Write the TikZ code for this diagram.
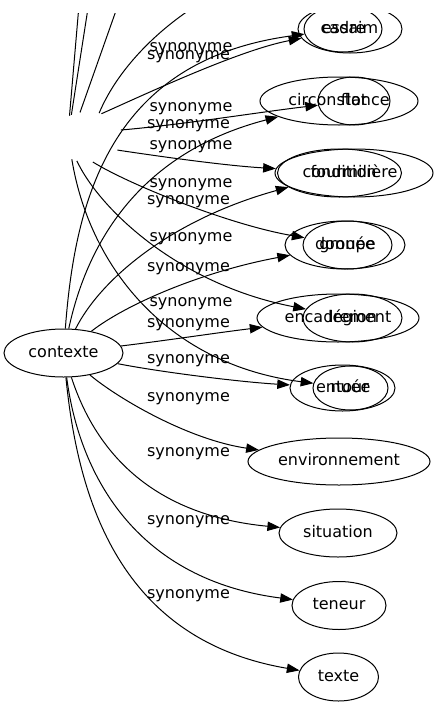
\documentclass[tikz,border=0pt]{standalone}
\usepackage{fontspec}
\setmainfont{DejaVu Sans}
\usetikzlibrary{shapes.geometric,arrows.meta}
\tikzset{
	mot/.style 2 args={draw, ellipse, inner sep=0pt, line width=0.75pt, minimum width=#1*1.5pt, minimum height=#2*1.5pt, text height=9pt, text depth=2.5pt, font=\fontsize{12}{14}\selectfont},
	cache/.style={ellipse, inner sep=0pt, minimum width=51pt, minimum height=37.5pt},
	lien/.style={line width=0.75pt, -{Triangle[length=9.5pt,width=7pt]}},
	brin/.style={line width=0.75pt},
	etiquette/.style={inner sep=0pt, text height=9pt, text depth=2.5pt, font=\fontsize{12}{14}\selectfont}
}
\begin{document}
\begin{tikzpicture}[x=0.75pt,y=-0.75pt]
	\useasboundingbox (0,0) rectangle (436,707);
	\clip (0,13) rectangle (436,707);
	% Paths, nodes and wires:
	\draw node[mot={59.5}{24}] (contexte) at (63.5, 353) {contexte};
	\draw node[cache] (foule) at (88, 137) {};
	\draw node[mot={39}{23}] (cadre) at (343, 29) {cadre};
	\draw node[mot={52}{24}] (essaim) at (350, 29) {essaim};
	\draw node[mot={79}{24}] (circonstance) at (339, 101) {circonstance};
	\draw node[mot={36}{24}] (flot) at (354, 101) {flot};
	\draw node[mot={62}{24}] (condition) at (339.5, 173) {condition};
	\draw node[mot={79}{24}] (fourmiliere) at (354, 173) {fourmilière};
	\draw node[mot={60}{24}] (donnee) at (345, 245) {donnée};
	\draw node[mot={44.5}{24}] (groupe) at (347.5, 245) {groupe};
	\draw node[mot={81}{24}] (encadrement) at (338, 318) {encadrement};
	\draw node[mot={49.5}{24}] (legion) at (352.5, 318) {légion};
	\draw node[mot={52.5}{23}] (entour) at (342.5, 388) {entour};
	\draw node[mot={37.5}{22}] (nuee) at (350.5, 388) {nuée};
	\draw node[mot={91}{23.5}] (environnement) at (339, 461.5) {environnement};
	\draw node[mot={59}{24}] (situation) at (338, 533) {situation};
	\draw node[mot={47}{24}] (teneur) at (339, 605.5) {teneur};
	\draw node[mot={40}{24}] (texte) at (338.5, 677) {texte};
	\coordinate (haut1) at (79, 5);
	\coordinate (haut2) at (88.5, 5);
	\coordinate (haut3) at (118, 5);
	\coordinate (haut4) at (197, 5);
	\draw[brin] (foule.131) -- (haut1);
	\draw[brin] (foule.127) -- (haut2);
	\draw[brin] (foule.108) -- (haut3);
	\draw[brin] (foule.65) .. controls (115, 75) and (150, 35) .. (haut4);
	\draw[lien] (foule.60) .. controls (150, 92) and (240, 50) .. (essaim);
	\draw[lien] (foule.12) .. controls (180, 125) and (260, 112) .. (flot);
	\draw[lien] (foule.-24) .. controls (170, 158) and (230, 166) .. (fourmiliere);
	\draw[lien] (foule.-79) .. controls (130, 185) and (230, 225) .. (groupe);
	\draw[lien] (foule.-115) .. controls (100, 210) and (180, 285) .. (legion);
	\draw[lien] (foule.-126) .. controls (90, 270) and (170, 365) .. (nuee);
	\draw[lien] (contexte) .. controls (75, 200) and (110, 60) .. (cadre);
	\draw[lien] (contexte) .. controls (90, 230) and (150, 150) .. (circonstance);
	\draw[lien] (contexte) .. controls (100, 280) and (170, 220) .. (condition);
	\draw[lien] (contexte) .. controls (125, 305) and (200, 272) .. (donnee);
	\draw[lien] (contexte) .. controls (170, 340) and (215, 333) .. (encadrement);
	\draw[lien] (contexte) .. controls (160, 372) and (240, 382) .. (entour);
	\draw[lien] (contexte) .. controls (120, 400) and (190, 440) .. (environnement);
	\draw[lien] (contexte) .. controls (95, 450) and (150, 515) .. (situation);
	\draw[lien] (contexte) .. controls (80, 480) and (140, 580) .. (teneur);
	\draw[lien] (contexte) .. controls (78, 500) and (120, 640) .. (texte);
	\draw node[etiquette] (lessaim) at (191, 47) {synonyme};
	\draw node[etiquette] (lflot) at (191, 107) {synonyme};
	\draw node[etiquette] (lfourmiliere) at (191, 145) {synonyme};
	\draw node[etiquette] (lgroupe) at (191, 183) {synonyme};
	\draw node[etiquette] (llegion) at (191, 237) {synonyme};
	\draw node[etiquette] (lnuee) at (191, 302) {synonyme};
	\draw node[etiquette] (lcadre) at (188.5, 55) {synonyme};
	\draw node[etiquette] (lcirconstance) at (188.5, 124) {synonyme};
	\draw node[etiquette] (lcondition) at (188.5, 200) {synonyme};
	\draw node[etiquette] (ldonnee) at (188.5, 267) {synonyme};
	\draw node[etiquette] (lencadrement) at (188.5, 323) {synonyme};
	\draw node[etiquette] (lentour) at (188.5, 359) {synonyme};
	\draw node[etiquette] (lenvironnement) at (188.5, 397) {synonyme};
	\draw node[etiquette] (lsituation) at (188.5, 452) {synonyme};
	\draw node[etiquette] (lteneur) at (188.5, 520) {synonyme};
	\draw node[etiquette] (ltexte) at (188.5, 594) {synonyme};
\end{tikzpicture}
\end{document}
